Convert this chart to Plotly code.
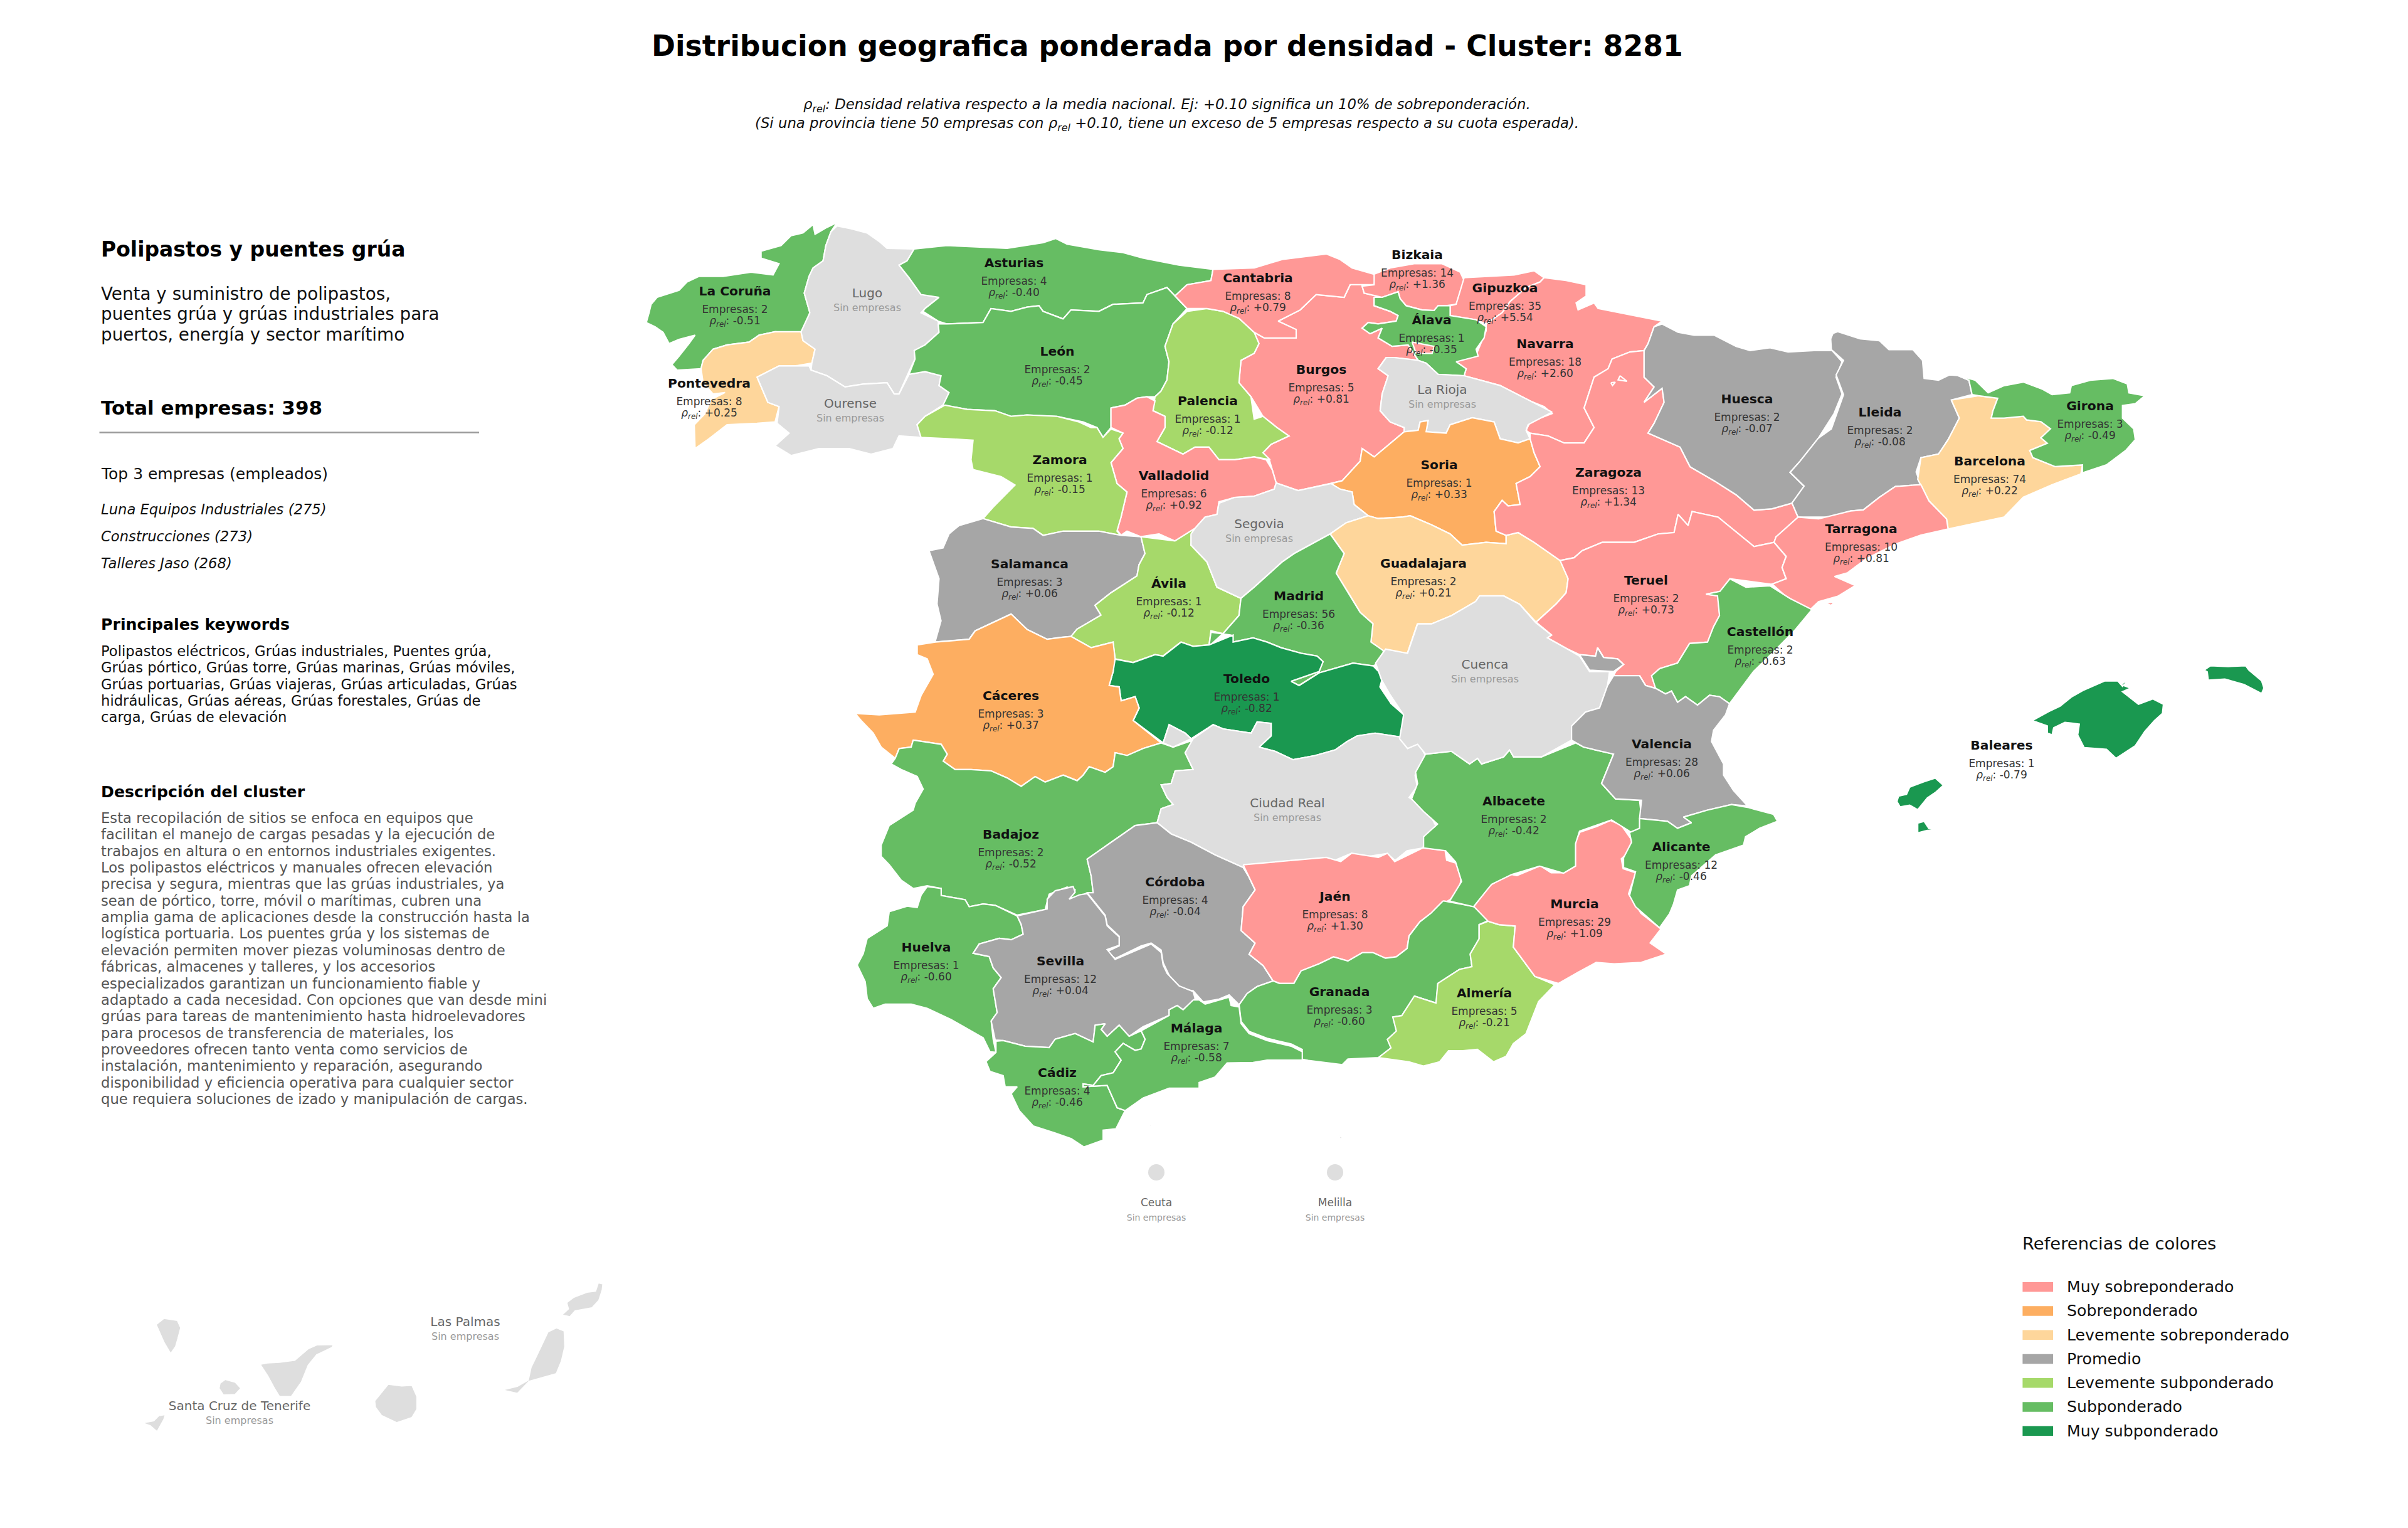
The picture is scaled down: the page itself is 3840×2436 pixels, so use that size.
import plotly.graph_objects as go

# ---------- data ----------
CATEGORY_LABELS = ["Muy sobreponderado", "Sobreponderado", "Levemente sobreponderado", "Promedio",
                   "Levemente subponderado", "Subponderado", "Muy subponderado"]
CATEGORY_COLORS = ["#FF9896", "#FDAE61", "#FED69B", "#A6A6A6", "#A6D96A", "#66BD63", "#1A9850"]
EMPTY_COLOR = "#DEDEDE"

PROVINCES = ["La Coruña", "Pontevedra", "Asturias", "León", "Zamora", "Burgos", "Palencia", "Valladolid", "Salamanca",
             "Ávila", "Cantabria", "Bizkaia", "Gipuzkoa", "Álava", "Navarra", "Soria", "Huesca", "Lleida",
             "Zaragoza", "Guadalajara", "Madrid", "Teruel", "Castellón", "Tarragona", "Barcelona", "Girona",
             "Baleares", "Valencia", "Albacete", "Alicante", "Murcia", "Almería", "Jaén", "Granada", "Cáceres",
             "Toledo", "Badajoz", "Córdoba", "Huelva", "Sevilla", "Málaga", "Cádiz"]
EMPRESAS = [2, 8, 4, 2, 1, 5, 1, 6, 3, 1, 8, 14, 35, 1, 18, 1, 2, 2, 13, 2, 56, 2, 2, 10, 74, 3, 1, 28, 2, 12, 29, 5, 8, 3, 3,
            1, 2, 4, 1, 12, 7, 4]
RHO = [-0.51, 0.25, -0.40, -0.45, -0.15, 0.81, -0.12, 0.92, 0.06, -0.12, 0.79, 1.36, 5.54, -0.35, 2.60, 0.33, -0.07, -0.08,
       1.34, 0.21, -0.36, 0.73, -0.63, 0.81, 0.22, -0.49, -0.79, 0.06, -0.42, -0.46, 1.09, -0.21, 1.30, -0.60, 0.37,
       -0.82, -0.52, -0.04, -0.60, 0.04, -0.58, -0.46]
LABEL_X = [1172, 1131, 1617, 1686, 1690, 2107, 1926, 1872, 1642, 1864, 2006, 2260, 2400, 2283, 2464, 2295, 2786, 2998,
           2565, 2270, 2071, 2625, 2807, 2968, 3173, 3333, 3192, 2650, 2414, 2681, 2511, 2367, 2129, 2136, 1612,
           1988, 1612, 1874, 1477, 1691, 1908, 1686]
LABEL_Y = [466, 613, 421, 562, 735, 591, 641, 760, 901, 932, 445, 408, 461, 512, 550, 743, 638, 659,
           755, 900, 952, 927, 1009, 845, 737, 649, 1190, 1188, 1279, 1352, 1443, 1585, 1431, 1583, 1111,
           1084, 1332, 1408, 1512, 1534, 1641, 1712]

EMPTY_NAMES = ["Lugo", "Ourense", "Segovia", "La Rioja", "Cuenca", "Ciudad Real", "Las Palmas", "Santa Cruz de Tenerife"]
EMPTY_X = [1383, 1356, 2008, 2300, 2368, 2053, 742, 382]
EMPTY_Y = [469, 645, 837, 623, 1061, 1282, 2109, 2243]
CITY_NAMES = ["Ceuta", "Melilla"]
CITY_X = [1844, 2129]
CITY_Y = [1869, 1869]
CITY_LABEL_Y = [1919, 1919]

TITLE = "Distribucion geografica ponderada por densidad - Cluster: 8281"
SUBTITLE_1 = "<i>ρ<sub>rel</sub>: Densidad relativa respecto a la media nacional. Ej: +0.10 significa un 10% de sobreponderación.</i>"
SUBTITLE_2 = "<i>(Si una provincia tiene 50 empresas con ρ<sub>rel</sub> +0.10, tiene un exceso de 5 empresas respecto a su cuota esperada).</i>"
HEAD = "Polipastos y puentes grúa"
TAGLINE = ["Venta y suministro de polipastos,", "puentes grúa y grúas industriales para", "puertos, energía y sector marítimo"]
TOTAL = 398
TOP_TITLE = "Top 3 empresas (empleados)"
TOP_COMPANIES = ["Luna Equipos Industriales", "Construcciones", "Talleres Jaso"]
TOP_EMPLOYEES = [275, 273, 268]
KEYWORD_LINES = ["Polipastos eléctricos, Grúas industriales, Puentes grúa,",
                 "Grúas pórtico, Grúas torre, Grúas marinas, Grúas móviles,",
                 "Grúas portuarias, Grúas viajeras, Grúas articuladas, Grúas",
                 "hidráulicas, Grúas aéreas, Grúas forestales, Grúas de",
                 "carga, Grúas de elevación"]
DESCRIPTION_LINES = ["Esta recopilación de sitios se enfoca en equipos que",
                     "facilitan el manejo de cargas pesadas y la ejecución de",
                     "trabajos en altura o en entornos industriales exigentes.",
                     "Los polipastos eléctricos y manuales ofrecen elevación",
                     "precisa y segura, mientras que las grúas industriales, ya",
                     "sean de pórtico, torre, móvil o marítimas, cubren una",
                     "amplia gama de aplicaciones desde la construcción hasta la",
                     "logística portuaria. Los puentes grúa y los sistemas de",
                     "elevación permiten mover piezas voluminosas dentro de",
                     "fábricas, almacenes y talleres, y los accesorios",
                     "especializados garantizan un funcionamiento fiable y",
                     "adaptado a cada necesidad. Con opciones que van desde mini",
                     "grúas para tareas de mantenimiento hasta hidroelevadores",
                     "para procesos de transferencia de materiales, los",
                     "proveedores ofrecen tanto venta como servicios de",
                     "instalación, mantenimiento y reparación, asegurando",
                     "disponibilidad y eficiencia operativa para cualquier sector",
                     "que requiera soluciones de izado y manipulación de cargas."]

# Outlines, on map sheets: sheet -> (origin x, origin y, units per map x, units per map y)
SHEETS = {"A": (1000, 320, 1.568, 2.24), "B": (2000, 320, 1.568, 2.24), "C": (2900, 500, 1.96, 1.742),
          "D": (1300, 950, 1.568, 2.24), "E": (2200, 950, 1.568, 2.24), "F": (1300, 1400, 1.568, 2.24),
          "G": (2000, 1300, 1.742, 2.24), "H": (180, 2000, 1.845, 3.0)}

OUTLINES = {
 "La Coruña": [("A", [(525,78),(510,110),(497,160),(490,215),(465,240),(455,270),(443,330),(457,400),(447,440),(435,468),(395,470),(370,468),(330,480),(305,505),(250,515),(215,530),(190,570),(185,600),(125,605),(112,585),(130,555),(155,510),(170,480),(130,495),(105,510),(90,470),(70,450),(48,435),(55,400),(60,370),(75,345),(130,320),(150,290),(180,270),(240,270),(310,255),(365,265),(380,225),(335,205),(335,180),(385,160),(410,125),(440,115),(465,85),(470,120),(500,95)])],
 "Pontevedra": [("A", [(435,468),(440,500),(470,530),(462,580),(420,590),(380,590),(325,630),(340,680),(352,720),(380,735),(370,790),(325,795),(250,800),(205,850),(170,885),(168,800),(195,760),(210,710),(245,685),(215,690),(190,650),(185,600),(190,570),(215,530),(250,515),(305,505),(330,480),(370,468)])],
 "Lugo": [("A", [(525,90),(560,100),(600,115),(630,145),(650,170),(718,172),(700,215),(680,230),(705,275),(735,335),(780,345),(745,385),(735,400),(778,430),(780,470),(745,515),(718,535),(720,565),(705,610),(680,690),(668,690),(650,650),(590,655),(545,665),(500,625),(460,605),(462,580),(470,530),(440,500),(435,468),(457,400),(443,330),(455,270),(465,240),(490,215),(497,160),(510,110)])],
 "Ourense": [("A", [(325,630),(380,590),(420,590),(455,590),(460,605),(500,625),(545,665),(590,655),(650,650),(668,690),(680,690),(705,620),(745,610),(785,625),(780,660),(805,685),(795,725),(745,770),(725,800),(735,845),(680,840),(665,885),(610,905),(555,885),(480,885),(410,910),(370,875),(405,830),(375,795),(380,735),(352,720),(340,680)])],
 "Asturias": [("A", [(718,172),(800,160),(950,170),(1040,150),(1072,135),(1100,155),(1180,175),(1240,185),(1290,205),(1380,230),(1465,245),(1460,285),(1400,300),(1370,340),(1350,310),(1300,335),(1290,365),(1215,370),(1180,395),(1110,390),(1090,422),(1040,395),(1030,375),(1000,380),(960,395),(910,385),(890,435),(800,440),(778,430),(740,395),(745,385),(780,345),(735,335),(705,275),(680,230),(700,215)])],
 "León": [("A", [(778,440),(800,440),(890,435),(910,385),(960,395),(1000,380),(1030,375),(1040,395),(1090,422),(1110,390),(1180,395),(1215,370),(1290,365),(1300,335),(1350,310),(1370,340),(1400,385),(1365,440),(1345,520),(1355,575),(1350,640),(1335,680),(1320,700),(1300,700),(1275,705),(1245,730),(1210,740),(1210,810),(1190,845),(1175,810),(1140,790),(1075,770),(1000,765),(960,770),(920,750),(850,745),(790,730),(805,685),(780,660),(785,625),(745,610),(705,620),(720,565),(718,535),(745,515),(780,470)])],
 "Burgos": [("B", [(0,470),(25,490),(50,490),(105,490),(105,460),(60,430),(115,390),(155,335),(225,345),(240,300),(300,300),(270,305),(275,330),(320,345),(300,345),(300,375),(340,395),(360,410),(355,430),(310,440),(285,435),(270,455),(290,475),(320,455),(310,490),(345,520),(385,515),(410,570),(350,560),(330,560),(310,600),(335,625),(320,690),(315,750),(340,790),(375,810),(375,825),(345,860),(325,885),(300,915),(270,885),(265,930),(220,1000),(190,1010),(110,1035),(55,1008),(45,960),(38,925),(22,900),(42,870),(87,840),(57,810),(22,770),(-8,700),(-38,650),(-33,570),(0,545),(12,510)])],
 "Palencia": [("A", [(1400,395),(1450,385),(1490,395),(1530,420),(1568,470),(1580,510),(1568,545),(1535,570),(1530,650),(1560,700),(1568,780),(1590,770),(1625,810),(1655,840),(1610,870),(1590,900),(1608,925),(1568,915),(1520,925),(1480,925),(1455,880),(1420,880),(1390,905),(1325,860),(1345,810),(1345,770),(1315,750),(1320,700),(1335,680),(1350,640),(1355,575),(1345,520),(1365,440)])],
 "Valladolid": [("A", [(1210,740),(1245,730),(1275,705),(1300,700),(1320,715),(1315,750),(1345,770),(1345,810),(1325,860),(1390,905),(1420,880),(1455,880),(1480,925),(1520,925),(1568,915),(1598,925),(1613,960),(1623,1008),(1618,1030),(1568,1055),(1520,1060),(1480,1075),(1475,1120),(1445,1130),(1420,1170),(1370,1215),(1330,1190),(1285,1200),(1250,1180),(1235,1195),(1225,1175),(1235,1130),(1250,1040),(1225,1010),(1210,935),(1240,885),(1230,850),(1240,830),(1210,810)])],
 "Zamora": [("A", [(795,730),(850,745),(920,750),(960,770),(1000,765),(1075,770),(1130,790),(1160,810),(1175,810),(1190,845),(1210,815),(1240,830),(1230,850),(1240,885),(1210,935),(1225,1010),(1250,1040),(1235,1130),(1225,1180),(1235,1195),(1180,1180),(1135,1180),(1090,1180),(1040,1195),(1015,1170),(960,1165),(890,1135),(915,1095),(970,1015),(935,985),(865,960),(860,925),(865,855),(800,850),(735,845),(725,800),(745,770)])],
 "Salamanca": [("A", [(890,1135),(960,1165),(1015,1170),(1040,1195),(1090,1180),(1135,1180),(1180,1180),(1235,1195),(1285,1200),(1295,1260),(1280,1300),(1275,1340),(1210,1400),(1170,1445),(1185,1480),(1125,1530),(1110,1556),(1085,1559),(1050,1566),(1000,1531),(960,1476),(870,1536),(855,1566),(810,1571),(770,1576),(785,1500),(775,1440),(780,1350),(755,1250),(790,1240),(805,1190),(830,1160)])],
 "Ávila": [("A", [(1285,1200),(1370,1215),(1420,1170),(1410,1230),(1450,1290),(1475,1380),(1535,1420),(1530,1481),(1490,1546),(1460,1536),(1455,1586),(1415,1591),(1385,1576),(1340,1626),(1320,1621),(1265,1649),(1220,1636),(1215,1576),(1160,1596),(1110,1556),(1125,1530),(1185,1480),(1170,1445),(1210,1400),(1275,1340),(1280,1300),(1295,1260)])],
 "Cantabria": [("B", [(-103,245),(-108,285),(-168,300),(-198,340),(-168,385),(-118,385),(-78,395),(-38,420),(0,470),(25,490),(50,490),(105,490),(105,460),(60,430),(115,390),(155,335),(225,345),(240,300),(300,300),(305,265),(245,240),(215,210),(180,190),(70,210),(0,240)])],
 "Bizkaia": [("B", [(300,262),(340,240),(400,225),(470,225),(515,255),(525,285),(505,370),(480,375),(460,375),(450,392),(420,390),(380,375),(365,350),(360,325),(320,345),(275,330),(270,305),(300,300)])],
 "Gipuzkoa": [("B", [(525,275),(590,270),(650,265),(700,250),(725,275),(715,290),(680,310),(640,360),(620,400),(580,440),(555,425),(490,410),(490,375),(505,370)])],
 "Navarra": [("B", [(725,275),(780,285),(830,300),(830,340),(805,365),(810,390),(850,365),(860,385),(1020,430),(1000,450),(985,510),(975,535),(940,540),(895,565),(885,600),(850,630),(825,740),(850,810),(825,865),(775,865),(735,840),(690,830),(680,820),(690,790),(745,760),(725,735),(690,715),(615,660),(525,625),(530,600),(505,575),(555,550),(580,465),(580,440),(620,400),(640,360),(680,310),(715,290)])],
 "Álava": [("B", [(300,345),(320,345),(360,325),(365,350),(380,375),(420,390),(450,392),(460,375),(490,375),(490,410),(555,425),(580,450),(575,490),(555,530),(560,555),(505,575),(530,600),(525,625),(460,620),(430,580),(410,570),(385,515),(345,520),(310,490),(320,455),(290,475),(270,455),(285,435),(310,440),(355,430),(360,410),(340,395),(300,375)])],
 "Treviño": [("B", [(395,505),(450,520),(445,545),(405,545)])],
 "La Rioja": [("B", [(330,560),(350,560),(410,570),(430,580),(460,620),(525,625),(615,660),(690,715),(745,755),(685,800),(680,820),(690,850),(660,865),(615,850),(600,790),(545,775),(490,800),(480,830),(430,825),(435,785),(415,790),(410,820),(375,825),(375,810),(340,790),(315,750),(320,690),(335,625),(310,600)])],
 "Soria": [("B", [(192,1010),(220,1000),(265,930),(270,885),(300,915),(325,885),(345,860),(375,825),(410,820),(415,790),(435,785),(430,825),(480,830),(490,800),(545,775),(600,790),(615,850),(660,865),(690,850),(700,900),(715,950),(690,985),(655,1010),(665,1085),(635,1090),(620,1070),(600,1110),(605,1180),(630,1195),(630,1225),(580,1220),(520,1230),(490,1190),(440,1155),(390,1125),(370,1130),(310,1135),(285,1125),(250,1085),(245,1040),(215,1030)])],
 "Segovia": [("B", [(-158,1190),(-158,1230),(-118,1290),(-93,1380),(-33,1420),(0,1380),(70,1290),(100,1260),(190,1190),(230,1150),(285,1125),(250,1085),(245,1040),(215,1030),(192,1010),(110,1035),(55,1008),(50,1030),(0,1055),(-50,1060),(-88,1080),(-93,1120),(-123,1130),(-148,1170)])],
 "Guadalajara": [("B", [(190,1190),(230,1150),(285,1125),(310,1135),(370,1130),(390,1125),(440,1155),(490,1190),(520,1230),(580,1220),(630,1225),(630,1195),(660,1185),(700,1220),(765,1285),(785,1350),(780,1400),(755,1440),(705,1505),(664,1441),(624,1411),(564,1411),(554,1431),(494,1481),(444,1511),(408,1511),(383,1616),(327,1616),(322,1606),(292,1576),(297,1511),(265,1470),(240,1410),(205,1330),(225,1260)])],
 "Madrid": [("B", [(190,1190),(225,1260),(205,1330),(240,1410),(265,1470),(297,1511),(292,1576),(322,1606),(332,1641),(297,1661),(247,1651),(162,1686),(112,1731),(92,1716),(162,1681),(172,1646),(157,1626),(117,1616),(67,1596),(32,1576),(-3,1561),(-53,1576),(-58,1551),(-108,1541),(-113,1591),(-78,1546),(-38,1481),(-33,1420),(0,1380),(70,1290),(100,1260)])],
 "Toledo": [("D", [(745,225),(795,238),(850,210),(870,215),(915,165),(945,180),(985,175),(1045,140),(1045,165),(1095,150),(1130,165),(1165,185),(1215,205),(1255,215),(1270,235),(1260,270),(1190,305),(1210,320),(1260,275),(1345,240),(1395,250),(1405,265),(1420,285),(1412,325),(1440,385),(1472,425),(1468,505),(1400,490),(1355,500),(1330,520),(1300,550),(1250,570),(1195,585),(1150,555),(1110,540),(1140,500),(1140,455),(1105,450),(1090,490),(1020,475),(995,460),(940,510),(925,490),(885,460),(870,525),(795,445),(810,400),(800,360),(765,375),(760,325),(735,320),(745,270)])],
 "Cáceres": [("D", [(490,65),(530,120),(580,155),(615,148),(640,145),(690,185),(745,165),(750,225),(745,270),(735,320),(760,325),(765,375),(800,360),(810,400),(795,445),(865,525),(820,545),(780,570),(750,560),(745,610),(725,630),(685,610),(670,640),(655,660),(620,640),(575,665),(550,645),(515,680),(480,650),(440,625),(390,620),(350,620),(320,590),(330,565),(315,530),(245,515),(240,540),(210,545),(200,580),(165,540),(145,490),(115,445),(100,420),(160,425),(250,415),(265,355),(295,280),(280,225),(255,210),(255,175),(300,165),(340,160),(385,155),(400,125)])],
 "Badajoz": [("D", [(245,515),(315,530),(330,565),(320,590),(350,620),(390,620),(440,625),(480,650),(515,680),(550,645),(575,665),(620,640),(655,660),(670,640),(685,610),(725,630),(745,610),(750,560),(780,570),(820,545),(865,525),(895,540),(945,515),(925,560),(945,620),(900,625),(890,670),(865,675),(880,720),(895,745),(865,760),(855,810),(800,820),(740,880),(680,940),(690,1000),(695,1060),(680,1060),(650,1085),(635,1085),(650,1050),(630,1040),(585,1065),(575,1120),(505,1140),(450,1105),(420,1100),(385,1110),(375,1085),(315,1070),(315,1045),(280,1035),(245,1045),(215,1015),(185,960),(165,930),(165,890),(185,820),(245,765),(250,740),(270,690),(255,645),(215,620),(190,600),(200,580),(210,545),(240,540)])],
 "Ciudad Real": [("D", [(945,510),(995,460),(1020,475),(1090,490),(1105,450),(1140,455),(1140,500),(1110,540),(1150,555),(1195,585),(1250,570),(1300,550),(1330,520),(1355,500),(1400,490),(1468,505),(1490,525),(1510,530),(1530,580),(1500,640),(1505,680),(1485,720),(1530,760),(1555,830),(1525,860),(1520,900),(1480,910),(1450,945),(1430,920),(1385,930),(1340,920),(1290,950),(1270,935),(1260,950),(1190,945),(1070,970),(1000,925),(940,880),(890,850),(855,810),(865,760),(895,745),(880,720),(865,675),(890,670),(900,625),(945,620),(925,560)]),
                 ("D", [(870,525),(885,460),(925,490),(940,510),(895,540)])],
 "Córdoba": [("D", [(855,810),(890,850),(940,880),(1000,925),(1070,970),(1085,1005),(1100,1050),(1070,1110),(1065,1195),(1085,1220),(1100,1240),(1085,1280),(1120,1320),(1145,1375),(1105,1395),(1080,1420),(1060,1460),(1035,1425),(1010,1440),(970,1450),(945,1410),(900,1400),(880,1340),(870,1310),(865,1265),(840,1240),(815,1250),(750,1295),(730,1270),(760,1250),(760,1215),(730,1175),(725,1140),(680,1060),(695,1060),(690,1000),(680,940),(740,880),(800,820)])],
 "Jaén": [("D", [(1070,960),(1206,944),(1278,934),(1314,949),(1341,919),(1408,934),(1431,919),(1449,949),(1485,924),(1521,899),(1575,909),(1579,944),(1602,954),(1615,1009),(1611,1044),(1588,1084),(1570,1099),(1566,1124),(1539,1134),(1512,1164),(1485,1214),(1480,1259),(1453,1289),(1426,1294),(1395,1274),(1368,1274),(1332,1304),(1296,1289),(1260,1314),(1215,1339),(1197,1384),(1161,1384),(1145,1375),(1120,1320),(1085,1280),(1100,1240),(1065,1195),(1070,1110),(1100,1050),(1085,1005)])],
 "Granada": [("D", [(1570,1089),(1647,1109),(1683,1159),(1660,1174),(1660,1224),(1638,1279),(1642,1324),(1611,1334),(1557,1384),(1553,1454),(1499,1429),(1467,1499),(1445,1504),(1454,1554),(1431,1584),(1440,1614),(1409,1649),(1332,1654),(1318,1674),(1233,1659),(1215,1654),(1218,1620),(1190,1600),(1130,1580),(1085,1555),(1065,1520),(1060,1460),(1080,1420),(1105,1395),(1145,1375),(1161,1384),(1197,1384),(1215,1339),(1260,1314),(1296,1289),(1332,1304),(1368,1274),(1395,1274),(1426,1294),(1453,1289),(1480,1259),(1485,1214),(1512,1164),(1539,1134)])],
 "Almería": [("G", [(650,378),(680,390),(725,395),(720,470),(780,575),(835,605),(790,665),(755,780),(720,815),(700,860),(665,880),(620,835),(580,840),(540,840),(515,880),(470,895),(430,880),(345,865),(380,830),(370,800),(395,770),(385,720),(410,715),(445,645),(505,670),(510,600),(570,550),(605,540),(600,495),(625,440),(625,390)])],
 "Murcia": [("G", [(610,325),(655,250),(710,210),(730,215),(795,180),(825,205),(860,205),(890,180),(890,100),(905,60),(950,40),(990,18),(1020,35),(1050,90),(1045,125),(1020,155),(1025,190),(1060,205),(1040,280),(1075,350),(1130,405),(1100,455),(1145,495),(1075,525),(1000,530),(950,525),(900,560),(845,600),(780,575),(720,470),(725,395),(680,390),(650,378)])],
 "Albacete": [("E", [(115,565),(180,555),(225,600),(245,580),(255,600),(310,575),(325,550),(335,575),(405,575),(490,525),(510,540),(585,565),(555,670),(590,725),(650,730),(655,790),(650,830),(630,845),(580,800),(530,825),(500,840),(490,885),(490,965),(460,990),(400,965),(330,995),(280,1030),(235,1110),(175,1090),(205,1020),(190,950),(165,910),(110,900),(110,860),(145,815),(110,770),(80,725),(95,670),(90,630)])],
 "Cuenca": [("E", [(95,100),(130,100),(180,70),(240,20),(250,0),(310,0),(350,30),(390,95),(430,140),(420,150),(470,190),(500,215),(525,270),(575,270),(570,320),(550,400),(515,415),(480,465),(480,515),(405,575),(335,575),(325,550),(310,575),(255,600),(245,580),(225,600),(180,555),(115,565),(95,530),(70,545),(50,510),(60,425),(25,350),(5,300),(-10,240),(15,190),(70,205)])],
 "Zaragoza": [("B", [(975,535),(975,630),(1000,665),(975,720),(1020,670),(1025,720),(1000,795),(985,830),(1065,880),(1090,950),(1150,1000),(1205,1050),(1250,1105),(1295,1100),(1345,1080),(1360,1130),(1360,1150),(1305,1200),(1300,1220),(1250,1235),(1160,1130),(1095,1110),(1085,1160),(1060,1120),(1050,1185),(1010,1190),(950,1220),(870,1220),(820,1250),(800,1275),(765,1285),(700,1220),(660,1185),(630,1195),(605,1180),(600,1110),(620,1070),(635,1090),(665,1085),(655,1010),(690,985),(715,950),(700,900),(690,850),(690,830),(735,840),(775,865),(825,865),(850,810),(825,740),(850,630),(885,600),(895,565),(940,540)])],
 "Petilla": [("B", [(915,625),(932,645),(910,640)]), ("B", [(892,650),(903,648),(896,660)])],
 "Teruel": [("B", [(705,1505),(755,1440),(780,1400),(785,1350),(765,1285),(800,1275),(820,1250),(870,1220),(950,1220),(1010,1190),(1050,1185),(1060,1120),(1085,1160),(1095,1110),(1160,1130),(1250,1235),(1300,1220),(1330,1270),(1320,1310),(1330,1350),(1295,1370),(1190,1350),(1165,1395),(1130,1405),(1159,1411),(1164,1481),(1149,1521),(1134,1576),(1089,1581),(1059,1651),(1014,1671),(994,1696),(1004,1741),(979,1731),(964,1696),(899,1696),(904,1681),(924,1656),(909,1636),(874,1631),(859,1596),(854,1626),(814,1621),(784,1601),(734,1561),(744,1551)])],
 "Huesca": [("B", [(1000,450),(1020,440),(1060,470),(1100,480),(1150,480),(1205,520),(1240,535),(1290,525),(1335,540),(1400,535),(1445,535),(1470,575),(1455,630),(1470,690),(1450,760),(1410,850),(1365,930),(1340,970),(1375,1020),(1345,1080),(1295,1100),(1250,1105),(1205,1050),(1150,1000),(1090,950),(1065,880),(985,830),(1000,795),(1025,720),(1020,670),(975,720),(1000,665),(975,630),(975,535),(985,510)])],
 "Lleida": [("C", [(45,55),(60,50),(130,70),(190,75),(220,100),(295,100),(325,130),(330,180),(375,185),(410,170),(435,172),(470,185),(480,225),(415,240),(440,290),(405,350),(375,390),(320,400),(305,440),(320,475),(240,480),(190,510),(140,545),(100,548),(40,565),(-64,565),(-83,526),(-45,479),(-89,441),(-58,410),(-2,347),(40,320),(78,225),(55,170),(78,130),(40,100),(38,70)])],
 "Barcelona": [("C", [(415,240),(500,228),(560,235),(545,270),(540,290),(580,290),(640,285),(650,295),(695,300),(725,320),(695,345),(715,360),(660,380),(670,400),(740,425),(825,420),(820,445),(730,475),(640,510),(580,565),(405,598),(400,570),(345,520),(310,460),(320,400),(375,390),(405,350),(440,290)])],
 "Girona": [("C", [(437,172),(490,185),(530,220),(580,200),(640,190),(700,210),(730,225),(785,220),(790,200),(850,185),(920,180),(965,195),(970,220),(1020,228),(990,250),(950,255),(950,290),(985,320),(990,350),(960,380),(900,420),(825,442),(825,420),(740,425),(670,400),(660,380),(715,360),(695,345),(725,320),(695,300),(650,295),(640,285),(580,290),(540,290),(545,270),(560,235),(500,228),(480,225),(470,185)])],
 "Tarragona": [("C", [(-64,565),(0,570),(100,548),(140,545),(190,510),(240,480),(320,475),(345,520),(400,570),(405,598),(320,615),(240,640),(150,680),(90,720),(50,730),(115,755),(60,785),(0,800),(-26,822),(-95,791),(-145,751),(-101,736),(-114,705),(-101,674),(-139,635),(-133,620)]),
               ("C", [(20,805),(50,800),(40,810)])],
 "Castellón": [("E", [(816,-6),(851,-16),(876,-61),(916,-31),(976,-36),(1026,9),(1081,49),(1040,120),(985,200),(935,270),(875,385),(850,360),(825,355),(795,390),(765,360),(745,380),(730,340),(715,350),(690,330),(680,285),(700,260),(745,240),(775,170),(820,165),(835,110),(850,70),(845,0)])],
 "Valencia": [("E", [(585,285),(650,285),(665,320),(690,330),(715,350),(730,340),(745,380),(765,360),(795,390),(825,355),(850,360),(875,385),(865,425),(835,480),(830,520),(860,600),(860,640),(885,695),(920,750),(880,745),(820,765),(760,790),(780,810),(745,830),(720,805),(650,795),(655,730),(590,725),(555,670),(585,565),(510,540),(480,515),(480,465),(515,415),(550,400),(570,320)]),
              ("E", [(500,210),(540,215),(545,185),(560,220),(595,225),(610,245),(585,270),(525,265)])],
 "Alicante": [("E", [(650,795),(720,805),(745,830),(780,810),(760,790),(820,765),(880,745),(920,755),(985,780),(995,805),(950,830),(915,860),(910,890),(840,925),(780,1000),(775,1035),(745,1050),(735,1100),(725,1135),(700,1185),(640,1110),(625,1070),(640,985),(610,970),(610,935),(630,880),(625,845),(650,830)])],
 "Baleares": [("C", [(668,1130),(720,1105),(755,1090),(790,1065),(830,1045),(895,1020),(935,1020),(950,1035),(975,1012),(955,1025),(945,1030),(975,1040),(950,1050),(1000,1085),(1045,1070),(1078,1085),(1075,1110),(1050,1130),(1020,1160),(990,1200),(930,1235),(900,1210),(830,1205),(810,1170),(815,1140),(770,1135),(735,1150),(730,1170),(715,1165),(715,1145)]),
              ("C", [(1205,990),(1225,978),(1280,980),(1335,978),(1345,990),(1385,1020),(1392,1040),(1385,1055),(1330,1030),(1270,1015),(1218,1018),(1215,995)]),
              ("C", [(250,1340),(275,1335),(285,1315),(330,1300),(365,1290),(390,1310),(365,1330),(340,1345),(310,1378),(285,1365),(255,1370),(245,1355)]),
              ("C", [(310,1415),(330,1410),(345,1430),(378,1435),(340,1435),(310,1442)]),
              ("C", [(880,1277),(890,1277),(885,1282)])],
 "Huelva": [("F", [(280,30),(315,37),(315,62),(375,77),(385,102),(420,92),(450,97),(505,135),(515,165),(520,200),(490,220),(460,215),(410,235),(395,268),(435,280),(445,320),(465,355),(445,395),(455,480),(440,510),(445,575),(452,622),(437,620),(420,570),(340,505),(280,465),(240,450),(175,450),(145,465),(130,430),(125,370),(105,310),(120,270),(130,215),(180,170),(185,120),(230,100),(255,105),(265,60)])],
 "Sevilla": [("F", [(505,135),(580,110),(580,75),(600,45),(645,30),(650,50),(635,75),(660,60),(680,55),(725,135),(730,170),(760,210),(760,240),(730,255),(750,290),(815,250),(840,235),(865,265),(870,310),(880,340),(910,385),(945,405),(950,430),(920,470),(905,455),(885,470),(885,490),(820,530),(785,565),(760,525),(730,565),(715,540),(725,520),(700,525),(695,585),(650,555),(600,575),(585,605),(525,600),(470,580),(450,578),(440,510),(455,480),(445,395),(465,355),(445,320),(435,280),(395,268),(410,235),(460,215),(490,220),(520,200),(515,165)])],
 "Cádiz": [("F", [(452,582),(470,580),(525,600),(585,605),(600,575),(650,555),(695,585),(700,525),(725,520),(715,540),(730,565),(760,525),(785,565),(815,545),(825,575),(815,610),(800,615),(770,590),(750,620),(765,650),(745,695),(715,705),(695,740),(670,735),(670,745),(730,740),(755,820),(775,830),(752,895),(720,900),(720,935),(672,960),(640,930),(600,910),(545,885),(510,830),(490,770),(505,745),(475,745),(470,705),(437,690),(427,655),(452,622)])],
 "Málaga": [("F", [(945,435),(960,435),(975,450),(1035,425),(1040,455),(1060,460),(1065,520),(1085,555),(1130,580),(1190,600),(1218,620),(1218,650),(1130,650),(1095,658),(1030,660),(1000,710),(960,730),(960,750),(885,750),(820,785),(775,830),(755,820),(730,740),(670,745),(670,735),(695,740),(715,705),(745,695),(765,650),(750,620),(770,590),(800,615),(815,610),(825,575),(815,545),(885,490),(885,470),(905,455),(920,470)])],
 "Islotes": [("F", [(832,878),(845,885),(838,888)]), ("F", [(1312,920),(1318,925),(1315,933),(1311,928)])],
 "Santa Cruz de Tenerife": [("H", [(127,335),(150,305),(190,315),(200,350),(192,400),(185,440),(170,475),(150,420)]),
              ("H", [(433,525),(455,518),(490,515),(535,505),(575,450),(600,432),(650,430),(645,445),(600,480),(575,530),(555,610),(525,680),(490,680),(475,640),(455,580)]),
              ("H", [(315,615),(330,597),(360,610),(377,640),(360,670),(325,672),(312,640)]),
              ("H", [(85,805),(120,795),(135,770),(155,765),(150,790),(130,848),(110,820)])],
 "Las Palmas": [("H", [(770,700),(790,660),(810,620),(850,628),(880,625),(895,680),(895,740),(880,780),(835,805),(790,770),(772,730)]),
              ("H", [(1320,290),(1340,260),(1335,230),(1355,205),(1395,180),(1420,175),(1428,135),(1442,140),(1440,170),(1430,220),(1410,255),(1360,270),(1345,298)]),
              ("H", [(1145,648),(1190,630),(1222,600),(1230,540),(1245,490),(1280,370),(1305,350),(1328,365),(1330,440),(1320,510),(1305,570),(1225,607),(1190,665)])],
}
DRAW_ORDER_LAST = ["Treviño", "Petilla"]


def category(r):
    if r >= 0.5: return 0
    if r >= 0.3: return 1
    if r >= 0.1: return 2
    if r > -0.1: return 3
    if r > -0.3: return 4
    if r > -0.7: return 5
    return 6


def rho_text(r):
    return f"<i>ρ</i><sub><i>rel</i></sub>: {r:+.2f}"


def to_map(parts):
    xs, ys = [], []
    for sheet, pts in parts:
        x0, y0, sx, sy = SHEETS[sheet]
        for px, py in pts + pts[:1]:
            xs.append(x0 + px / sx)
            ys.append(y0 + py / sy)
        xs.append(None)
        ys.append(None)
    return xs, ys


FONT = "DejaVu Sans"
fill_of = {n: CATEGORY_COLORS[category(r)] for n, r in zip(PROVINCES, RHO)}
fill_of["Treviño"] = fill_of["Burgos"]
fill_of["Petilla"] = fill_of["Navarra"]

fig = go.Figure()
names = [n for n in OUTLINES if n not in DRAW_ORDER_LAST] + DRAW_ORDER_LAST
for n in names:
    xs, ys = to_map(OUTLINES[n])
    fig.add_trace(go.Scatter(x=xs, y=ys, mode="lines", fill="toself", fillcolor=fill_of.get(n, EMPTY_COLOR),
                             line=dict(color="white", width=2.2), hoverinfo="skip", showlegend=False))

# Ceuta, Melilla
fig.add_trace(go.Scatter(x=CITY_X, y=CITY_Y, mode="markers", hoverinfo="skip", showlegend=False,
                         marker=dict(size=26, color=EMPTY_COLOR, line=dict(width=0))))


def text_layer(x, y, text, size, color):
    fig.add_trace(go.Scatter(x=x, y=y, text=text, mode="text", textposition="middle center", hoverinfo="skip",
                             showlegend=False, cliponaxis=False,
                             textfont=dict(family=FONT, size=size, color=color)))


text_layer(LABEL_X, LABEL_Y, [f"<b>{n}</b>" for n in PROVINCES], 20.3, "#111111")
text_layer(LABEL_X, [y + 28.5 for y in LABEL_Y], [f"Empresas: {v}" for v in EMPRESAS], 17, "#333333")
text_layer(LABEL_X, [y + 47 for y in LABEL_Y], [rho_text(r) for r in RHO], 17, "#333333")
text_layer(EMPTY_X, EMPTY_Y, EMPTY_NAMES, 20, "#666666")
text_layer(EMPTY_X, [y + 23 for y in EMPTY_Y], ["Sin empresas"] * len(EMPTY_NAMES), 16, "#999999")
text_layer(CITY_X, CITY_LABEL_Y, CITY_NAMES, 17, "#666666")
text_layer(CITY_X, [y + 23 for y in CITY_LABEL_Y], ["Sin empresas"] * len(CITY_NAMES), 14, "#999999")

annotations = []


def note(text, x, y, size, color="#000000", anchor="left"):
    annotations.append(dict(text=text, x=x, y=y, xref="x", yref="y", showarrow=False, xanchor=anchor,
                            yanchor="middle", align=anchor, font=dict(family=FONT, size=size, color=color)))


note(f"<b>{TITLE}</b>", 1861, 73, 45.7, anchor="center")
note(SUBTITLE_1, 1861, 168, 22.8, "#111111", "center")
note(SUBTITLE_2, 1861, 198, 22.8, "#111111", "center")

LEFT_X = 158.5
note(f"<b>{HEAD}</b>", LEFT_X, 397, 33)
for i, line in enumerate(TAGLINE):
    note(line, LEFT_X, 468 + 32.5 * i, 27.8, "#111111")
note(f"<b>Total empresas: {TOTAL}</b>", LEFT_X, 650, 31)
note(TOP_TITLE, LEFT_X, 755, 25, "#111111")
for i, (c, e) in enumerate(zip(TOP_COMPANIES, TOP_EMPLOYEES)):
    note(f"<i>{c} ({e})</i>", LEFT_X, 812 + 43 * i, 22.7, "#111111")
note("<b>Principales keywords</b>", LEFT_X, 995.5, 25.2)
for i, line in enumerate(KEYWORD_LINES):
    note(line, LEFT_X, 1038 + 26.3 * i, 22.7, "#111111")
note("<b>Descripción del cluster</b>", LEFT_X, 1262, 25.2)
for i, line in enumerate(DESCRIPTION_LINES):
    note(line, LEFT_X, 1304 + 26.35 * i, 22.7, "#555555")

note("Referencias de colores", 3223, 1982, 27.4, "#111111")
shapes = [dict(type="line", xref="x", yref="y", x0=158.5, x1=764, y0=689.5, y1=689.5,
               line=dict(color="#999999", width=2.5))]
for i, (lab, col) in enumerate(zip(CATEGORY_LABELS, CATEGORY_COLORS)):
    yc = 2051.7 + 38.25 * i
    shapes.append(dict(type="rect", xref="x", yref="y", x0=3225.4, x1=3274, y0=yc - 7.7, y1=yc + 7.7,
                       fillcolor=col, line=dict(width=0)))
    note(lab, 3294, yc, 25.2, "#111111")

fig.update_layout(width=3840, height=2436, margin=dict(l=0, r=0, t=0, b=0), paper_bgcolor="white",
                  plot_bgcolor="white", showlegend=False, annotations=annotations, shapes=shapes,
                  font=dict(family=FONT),
                  xaxis=dict(range=[0, 3840], visible=False, domain=[0, 1], fixedrange=True),
                  yaxis=dict(range=[2436, 0], visible=False, domain=[0, 1], fixedrange=True))
fig.write_html("out.html", config=dict(displayModeBar=False),
               post_script="document.body.style.margin='0';document.body.style.background='white';")
